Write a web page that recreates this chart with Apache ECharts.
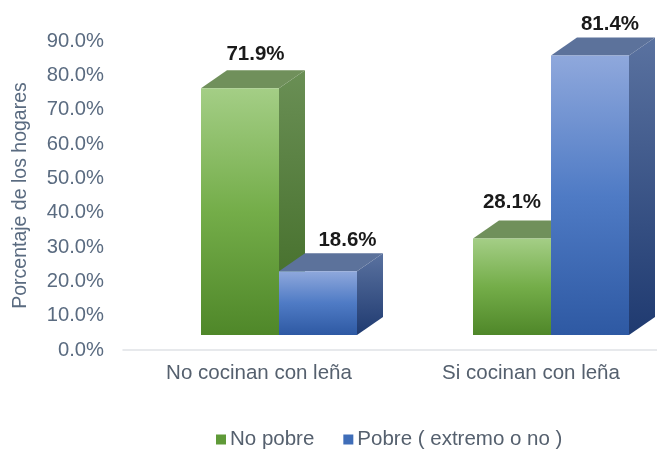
<!DOCTYPE html>
<html>
<head>
<meta charset="utf-8">
<style>html,body{margin:0;padding:0;background:#fff}#c{width:657px;height:451px}</style>
<script src="https://cdn.jsdelivr.net/npm/echarts@6/dist/echarts.min.js"></script>
</head>
<body>
<div id="c"></div>
<script>
const categories = ['No cocinan con leña', 'Si cocinan con leña'];
const noPobre = [71.9, 28.1];
const pobre = [18.6, 81.4];
const tickStep = 10;
const axisMax = 90;

const DEPTH_X = 26, DEPTH_Y = 18, LIFT = 15, BAR_W = 78, GROUP_SHIFT = 20;

const looks = {
  green: {
    front: ['#A4CE86', '#74AD49', '#4F8729'],
    side: ['#6A8F55', '#3F6A24'],
    top: '#70905B',
    legend: '#5F9A38'
  },
  blue: {
    front: ['#8FA8DC', '#4F7BC5', '#2E59A3'],
    side: ['#5A72A0', '#1F3A70'],
    top: '#5C729B',
    legend: '#3F6DB8'
  }
};

function grad(stops) {
  const n = stops.length - 1;
  return {type: 'linear', x: 0, y: 0, x2: 0, y2: 1,
    colorStops: stops.map((c, i) => ({offset: i / n, color: c}))};
}

function bar3d(look, side, labelNudge) {
  return function (params, api) {
    const idx = api.value(0);
    const val = api.value(1);
    const cx = api.coord([idx, 0])[0];
    const base = api.coord([idx, 0])[1] - LIFT;
    const top = api.coord([idx, val])[1] - LIFT;
    const left = cx + GROUP_SHIFT + (side === 0 ? -BAR_W : 0);
    const right = left + BAR_W;
    const nudge = labelNudge[idx];
    return {
      type: 'group',
      children: [
        {type: 'polygon', silent: true,
          shape: {points: [[right, top], [right + DEPTH_X, top - DEPTH_Y], [right + DEPTH_X, base - DEPTH_Y], [right, base]]},
          style: {fill: grad(look.side)}},
        {type: 'polygon', silent: true,
          shape: {points: [[left, top], [left + DEPTH_X, top - DEPTH_Y], [right + DEPTH_X, top - DEPTH_Y], [right, top]]},
          style: {fill: look.top}},
        {type: 'rect', silent: true,
          shape: {x: left, y: top, width: BAR_W, height: base - top},
          style: {fill: grad(look.front)}},
        {type: 'text', silent: true,
          x: (left + right) / 2 + nudge[0], y: top - DEPTH_Y + nudge[1],
          style: {text: val.toFixed(1) + '%', fill: '#1a1a1a', align: 'center', verticalAlign: 'middle',
            font: 'bold 20.5px "Liberation Sans", Arial, sans-serif'}}
      ]
    };
  };
}

const chart = echarts.init(document.getElementById('c'), null, {renderer: 'canvas'});
const textFont = '"Liberation Sans", Arial, sans-serif';
chart.setOption({
  animation: false,
  backgroundColor: '#fff',
  grid: {left: 123, right: -10, top: 41, bottom: 101, containLabel: false, outerBoundsMode: 'none'},
  legend: {
    left: 211, top: 424, itemWidth: 10, itemHeight: 10, itemGap: 29, icon: 'rect', selectedMode: false,
    textStyle: {color: '#55606E', fontSize: 20.5, fontFamily: textFont, padding: [0, 0, 0, -1]},
    data: ['No pobre', 'Pobre ( extremo o no )']
  },
  xAxis: {
    type: 'category', data: categories,
    axisTick: {show: false},
    axisLine: {lineStyle: {color: '#DFE2E6', width: 1.5}},
    axisLabel: {color: '#55606E', fontSize: 20.5, fontFamily: textFont, margin: 13}
  },
  yAxis: {
    type: 'value', min: 0, max: axisMax, interval: tickStep,
    name: 'Porcentaje de los hogares', nameLocation: 'middle', nameGap: 92, nameRotate: 90,
    nameTextStyle: {color: '#5A6B80', fontSize: 19.5, fontFamily: textFont},
    axisLine: {show: false}, axisTick: {show: false}, splitLine: {show: false},
    axisLabel: {color: '#5A6B80', fontSize: 20.2, fontFamily: textFont, margin: 19, formatter: v => v.toFixed(1) + '%'}
  },
  series: [
    {name: 'No pobre', type: 'custom', itemStyle: {color: looks.green.legend},
      renderItem: bar3d(looks.green, 0, [[15.5, -16], [0, -18]]),
      encode: {x: 0, y: 1}, data: noPobre.map((v, i) => [i, v])},
    {name: 'Pobre ( extremo o no )', type: 'custom', itemStyle: {color: looks.blue.legend},
      renderItem: bar3d(looks.blue, 1, [[29.5, -13], [20, -13]]),
      encode: {x: 0, y: 1}, data: pobre.map((v, i) => [i, v])}
  ]
});
</script>
</body>
</html>
